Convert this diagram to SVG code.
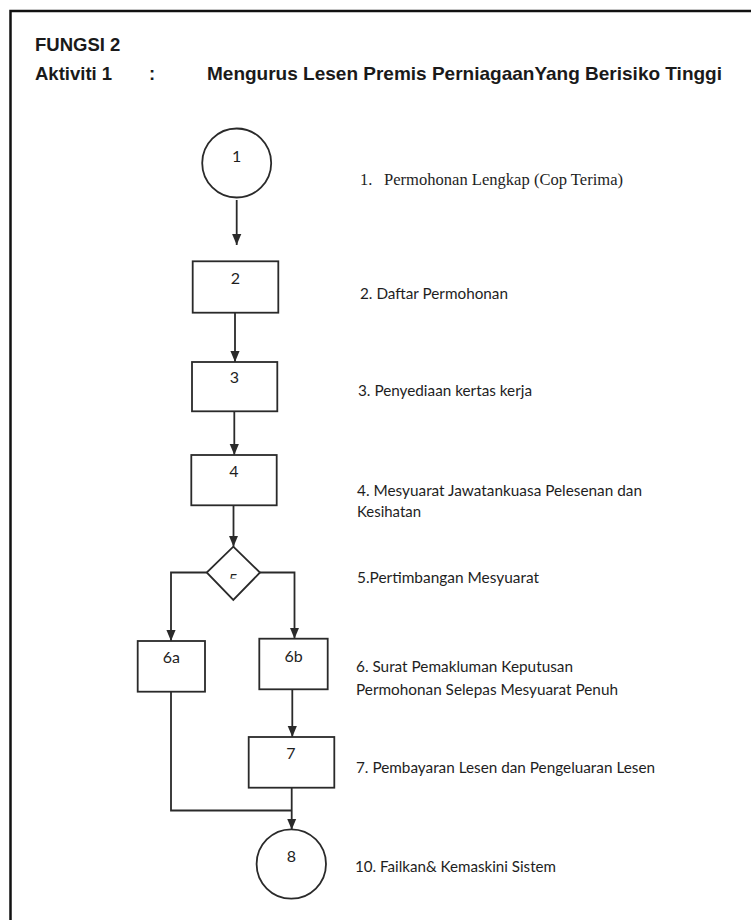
<svg xmlns="http://www.w3.org/2000/svg" width="751" height="920" viewBox="0 0 751 920">
  <style>
    .frame { fill: none; stroke: #111; stroke-width: 2.5; }
    .shape { fill: #fff; stroke: #2a2a2a; stroke-width: 1.8; }
    .conn { fill: none; stroke: #2a2a2a; stroke-width: 1.8; }
    .head { font-family: "Liberation Sans", Arial, sans-serif; font-weight: bold; font-size: 18.5px; fill: #1a1a1a; }
    .num { font-family: Lato, "Open Sans", sans-serif; font-size: 16px; fill: #1e1e1e; text-anchor: middle; }
    .lbl { font-family: Lato, "Open Sans", sans-serif; font-size: 16px; fill: #1e1e1e; }
    .tnr { font-family: "Liberation Serif", "Times New Roman", serif; font-size: 16.5px; fill: #1e1e1e; }
  </style>
  <defs>
    <marker id="arrow" viewBox="0 0 12 10" refX="12" refY="5" markerWidth="11" markerHeight="10" markerUnits="userSpaceOnUse" orient="auto">
      <path d="M0,0 L12,5 L0,10 z" fill="#2a2a2a"/>
    </marker>
    <clipPath id="clip5">
      <rect x="220" y="560" width="30" height="18.5"/>
    </clipPath>
  </defs>
  <rect width="751" height="920" fill="#fff"/>
  <path class="frame" d="M10.5,925 V11 H755"/>

  <g id="header">
    <text class="head" x="35" y="51">FUNGSI 2</text>
    <text class="head" x="35" y="80">Aktiviti 1</text>
    <text class="head" x="149" y="80">:</text>
    <text class="head" x="207" y="80" textLength="515" lengthAdjust="spacingAndGlyphs">Mengurus Lesen Premis PerniagaanYang Berisiko Tinggi</text>
  </g>

  <g id="connectors">
    <line class="conn" x1="236.7" y1="200" x2="236.7" y2="245" marker-end="url(#arrow)"/>
    <line class="conn" x1="235" y1="312.7" x2="235" y2="362" marker-end="url(#arrow)"/>
    <line class="conn" x1="234.3" y1="411.3" x2="234.3" y2="455" marker-end="url(#arrow)"/>
    <line class="conn" x1="233.5" y1="505.3" x2="233.5" y2="546.7" marker-end="url(#arrow)"/>
    <polyline class="conn" points="206.7,572.5 171,572.5 171,641" marker-end="url(#arrow)"/>
    <polyline class="conn" points="260,572.5 294.5,572.5 294.5,638.7" marker-end="url(#arrow)"/>
    <line class="conn" x1="292.3" y1="689.3" x2="292.3" y2="737" marker-end="url(#arrow)"/>
    <polyline class="conn" points="171,691.7 171,810.5 291.7,810.5"/>
    <line class="conn" x1="291.7" y1="787.7" x2="291.7" y2="829.7" marker-end="url(#arrow)"/>
  </g>

  <g id="node1">
    <circle class="shape" cx="236.7" cy="163" r="34.5"/>
    <text class="num" x="236.7" y="162">1</text>
    <text class="tnr" x="360" y="185">1.<tspan x="384" textLength="239" lengthAdjust="spacingAndGlyphs">Permohonan Lengkap (Cop Terima)</tspan></text>
  </g>

  <g id="node2">
    <rect class="shape" x="192.7" y="261.3" width="85.6" height="51.4"/>
    <text class="num" x="235.5" y="284">2</text>
    <text class="lbl" x="360" y="299" textLength="148" lengthAdjust="spacingAndGlyphs">2. Daftar Permohonan</text>
  </g>

  <g id="node3">
    <rect class="shape" x="192" y="362" width="85.3" height="49.3"/>
    <text class="num" x="234.5" y="383">3</text>
    <text class="lbl" x="358" y="396" textLength="174" lengthAdjust="spacingAndGlyphs">3. Penyediaan kertas kerja</text>
  </g>

  <g id="node4">
    <rect class="shape" x="191.3" y="455" width="85.4" height="50.3"/>
    <text class="num" x="234" y="477">4</text>
    <text class="lbl" x="357" y="496" textLength="285" lengthAdjust="spacingAndGlyphs">4. Mesyuarat Jawatankuasa Pelesenan dan</text>
    <text class="lbl" x="357" y="517" textLength="64" lengthAdjust="spacingAndGlyphs">Kesihatan</text>
  </g>

  <g id="node5">
    <polygon class="shape" points="233.3,546.7 260,572.5 233.3,600 206.7,572.5"/>
    <text class="num" x="233.3" y="584.5" clip-path="url(#clip5)">5</text>
    <text class="lbl" x="357" y="583" textLength="182" lengthAdjust="spacingAndGlyphs">5.Pertimbangan Mesyuarat</text>
  </g>

  <g id="node6a">
    <rect class="shape" x="137.7" y="641" width="67.3" height="50.7"/>
    <text class="num" x="171.4" y="663">6a</text>
  </g>

  <g id="node6b">
    <rect class="shape" x="259.3" y="638.7" width="68.4" height="50.6"/>
    <text class="num" x="293.5" y="662">6b</text>
    <text class="lbl" x="356" y="672" textLength="217" lengthAdjust="spacingAndGlyphs">6. Surat Pemakluman Keputusan</text>
    <text class="lbl" x="356" y="695" textLength="262" lengthAdjust="spacingAndGlyphs">Permohonan Selepas Mesyuarat Penuh</text>
  </g>

  <g id="node7">
    <rect class="shape" x="248.7" y="737" width="85.6" height="50.7"/>
    <text class="num" x="291" y="759">7</text>
    <text class="lbl" x="356" y="773" textLength="299" lengthAdjust="spacingAndGlyphs">7. Pembayaran Lesen dan Pengeluaran Lesen</text>
  </g>

  <g id="node8">
    <circle class="shape" cx="291.3" cy="864" r="34.7"/>
    <text class="num" x="291.3" y="862">8</text>
    <text class="lbl" x="355" y="872" textLength="201" lengthAdjust="spacingAndGlyphs">10. Failkan&amp; Kemaskini Sistem</text>
  </g>
</svg>
